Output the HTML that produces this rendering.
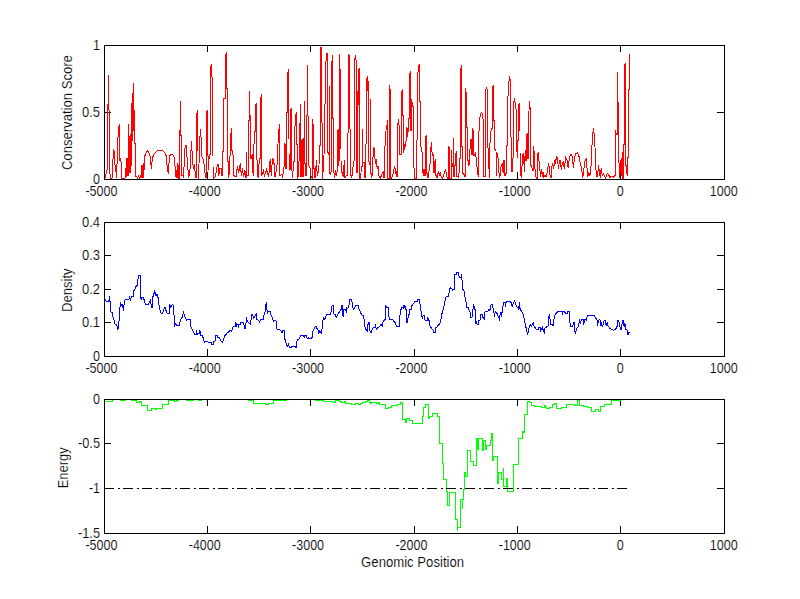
<!DOCTYPE html>
<html><head><meta charset="utf-8"><title>figure</title>
<style>
html,body{margin:0;padding:0;background:#fff;}
body{width:800px;height:599px;overflow:hidden;}
svg{display:block;}
text{font-family:"Liberation Sans",sans-serif;font-size:14px;fill:#000;stroke:#fff;stroke-width:0.15px;paint-order:fill stroke;}
</style></head><body>
<svg width="800" height="599" viewBox="0 0 800 599">
<rect x="0" y="0" width="800" height="599" fill="#ffffff"/>
<g fill="none" stroke="#000" stroke-width="1" shape-rendering="crispEdges">
<path d="M104.5 179.5 v-8 M104.5 45.5 v6 M207.5 179.5 v-8 M207.5 45.5 v6 M310.5 179.5 v-8 M310.5 45.5 v6 M414.5 179.5 v-8 M414.5 45.5 v6 M517.5 179.5 v-8 M517.5 45.5 v6 M620.5 179.5 v-8 M620.5 45.5 v6 M724.5 179.5 v-8 M724.5 45.5 v6 M104.5 45.5 h6 M724.5 45.5 h-8 M104.5 112.5 h6 M724.5 112.5 h-8 M104.5 179.5 h6 M724.5 179.5 h-8"/>
<path d="M104.5 356.5 v-8 M104.5 222.5 v6 M207.5 356.5 v-8 M207.5 222.5 v6 M310.5 356.5 v-8 M310.5 222.5 v6 M414.5 356.5 v-8 M414.5 222.5 v6 M517.5 356.5 v-8 M517.5 222.5 v6 M620.5 356.5 v-8 M620.5 222.5 v6 M724.5 356.5 v-8 M724.5 222.5 v6 M104.5 222.5 h6 M724.5 222.5 h-8 M104.5 255.5 h6 M724.5 255.5 h-8 M104.5 289.5 h6 M724.5 289.5 h-8 M104.5 322.5 h6 M724.5 322.5 h-8 M104.5 356.5 h6 M724.5 356.5 h-8"/>
<path d="M104.5 533.5 v-8 M104.5 399.5 v6 M207.5 533.5 v-8 M207.5 399.5 v6 M310.5 533.5 v-8 M310.5 399.5 v6 M414.5 533.5 v-8 M414.5 399.5 v6 M517.5 533.5 v-8 M517.5 399.5 v6 M620.5 533.5 v-8 M620.5 399.5 v6 M724.5 533.5 v-8 M724.5 399.5 v6 M104.5 399.5 h6 M724.5 399.5 h-8 M104.5 443.5 h6 M724.5 443.5 h-8 M104.5 488.5 h6 M724.5 488.5 h-8 M104.5 533.5 h6 M724.5 533.5 h-8"/>
</g>
<g fill="none" stroke-width="1" shape-rendering="crispEdges" stroke-linejoin="miter">
<polyline stroke="#ff0000" points="104.5,154 104.52,177 105.5,177 106.5,172 107.4,168 107.5,105 108.4,103 108.5,75 108.6,108 109.4,111 109.5,170 110.5,178 112,178 113.5,150 114.5,152 115.3,172 116,167 116.5,178 118.2,132 119.4,124 119.42,160 120,160 120.8,158 121.9,178 125,178 125.6,168 126.5,177 127,158 127.7,175 128.48,175 128.5,124 128.52,170 129,170 129.58,170 129.6,136 129.62,172 130.2,172 130.78,172 130.8,134 130.82,165 131.3,165 131.48,165 131.5,103 131.52,140 132.4,140 132.5,93 132.52,130 133.3,130 133.4,83 133.5,110 134.4,111 134.5,119 134.52,143 135.6,143 135.62,176 136.3,176 137.5,178 138.5,176 139.5,178 140.5,176 141.2,178 141.9,165 142.5,178 143.1,163 143.8,178 144.2,162 145,155.5 146.2,152.5 147.5,151 148.5,152 149.4,153.6 150.6,158 151.25,168.6 152.5,158 153.75,154.25 156.25,151.5 158,150.5 160,150.25 162.5,150.75 165,153 166.25,156 167.5,170.5 168.4,172.4 169.4,158 170.25,154.5 172.5,154.25 173.75,156 174.6,159 175.6,175.5 176.5,178 177.5,163 178,178 178.5,165 178.9,178 179.38,178 179.4,130.5 180.38,130.5 180.4,101 180.42,135 181.25,135 181.27,175.5 182.5,175.5 183.5,177 185,148 186.25,145 187.5,164 188.75,178 190,169 191.5,141 192.5,160.5 193.5,169 194.4,164 195.6,177 196.48,177 196.5,120.5 197.25,110 197.27,150 198,150 198.02,178 198.5,178 200.25,129 201.25,140 202,157 203.5,160 204.5,168 205.5,177 206.23,177 206.25,150 206.48,150 206.5,112 207.5,110 207.52,155.5 208,155.5 208.6,170 209.2,154 210.23,154 210.25,73 211.25,64 212.5,85 212.52,155.5 213,155.5 213.02,178 213.75,178 215,177 216.25,172 217.5,164 218.5,164 218.75,175.5 220,168 221.25,168 221.9,175 222.48,175 222.5,151.75 223.73,151.75 223.75,98.75 225,98 225.23,98 225.25,60 226.25,52 226.27,88 227.5,88 227.52,161 228,161 228.75,178 229.4,170 231.25,128 231.27,150.5 232.25,150.5 233.1,155.5 234,175.5 236,177 237.5,166 238.75,173 240.25,163 241.25,175.5 242.5,168 243.5,177 245,170.5 245.6,177 246.48,177 246.5,151.75 246.52,175.5 247.25,175.5 248.48,175.5 248.5,120 249.38,120 249.4,91 249.42,115.5 250.25,115.5 250.27,158 251.25,158 252.5,154 253.1,175.5 254.4,131 255.23,131 255.25,107 256.25,103 256.27,158 256.9,158 258.1,178 259.4,158 260.23,158 260.25,105 261.25,94 261.27,175.5 261.9,175.5 263.5,171 264.4,176 266.5,170 267.5,173 268.75,176.75 270.25,158.6 271.25,176 272.5,158 273.5,160.5 274.1,164 275,176.75 276.9,168 277.75,149 278.5,133.6 279.5,124 279.52,175.5 280.25,175.5 281.9,174 282.5,178 284,166.75 284.38,166.75 284.4,143 285.25,145 285.27,168 285.7,168 286.23,168 286.25,112 287.23,112 287.25,83.75 288.25,69 288.27,138 289,138 289.02,169 289.75,169 290.23,169 290.25,111 291.25,108 291.27,169 291.9,169 292.5,178 293.75,161.75 294.73,161.75 294.75,130 295.6,118 296.25,112 296.27,144 297.1,144 297.12,178 297.9,178 298.75,170.5 299.3,150 299.5,133 300.2,120 300.4,104 300.42,140 300.6,140 300.62,176 301,176 301.28,176 301.3,145 301.32,176 301.6,176 301.98,176 302,140 302.02,176 302.3,176 302.58,176 302.6,139 302.62,176 303,176 303.28,176 303.3,138 303.32,172 303.6,172 303.98,172 304,139 304.3,120 304.5,101 304.52,140 304.7,140 304.72,163 305.25,163 306,175.5 306.58,175.5 306.6,150 306.7,116 307.4,114 307.5,65 307.6,114 308.4,118 308.5,150 308.75,165.5 310,168 311,176 311.9,178 312.48,178 312.5,119 313.5,129 313.52,168 314.4,168 315,178 316.5,160 317.25,175.5 318.1,173 319,165 319.75,145 320.28,145 320.3,123 320.48,123 320.5,47 321.5,47 321.6,122 322.4,124 322.5,150 322.52,178 322.75,178 323.5,160.5 324.4,150 324.5,105 325.4,103 325.5,63 326.4,60 326.5,53 327.5,53 327.6,152 328.5,154 329.4,150 329.5,86 329.6,173 330.5,174 331.4,170 331.5,63 332.4,60 332.5,55 332.6,118 333.5,118 333.6,170.5 334.75,178 335.6,170 336.5,176 337.2,170 337.3,130.5 337.32,165 337.7,165 338.08,165 338.1,128.6 338.12,160 338.6,160 339.38,160 339.4,128 339.5,54 339.55,69 340.5,69 340.6,120 340.62,148 341,148 341.02,172 341.9,172 343.1,176.75 344.4,160 345,177.4 346.25,175.5 347.38,175.5 347.4,150 347.5,134 348.4,132 348.5,54 349.5,56 349.6,128 350.4,130 350.5,150 350.52,175.5 351,175.5 351.9,177.4 353.1,166 354.3,160 354.48,160 354.5,61 355.5,55 356.4,63 356.42,172 356.6,172 357.4,172 357.5,91 358.3,104 358.48,104 358.5,71 359.5,68 359.6,155.5 359.62,178 360.6,178 361.5,166 362.48,166 362.5,128.6 362.52,163 363.1,163 364,162 364.75,177 365.58,177 365.6,148.6 366.4,140 366.5,81 367.5,76 367.5,91 368.5,81 368.6,160 369.5,165 370.4,160 370.5,99 370.52,150 370.7,150 370.72,173 371,173 371.9,178 373.5,148 374.4,149 375.25,163 376.25,161 377.25,169 378.1,166 379,176 380.25,178 381.25,176 383.1,172 384,177.4 384.73,177.4 384.75,152 385.6,131.75 386.5,130.5 387.5,120 387.52,178 388.1,178 389.38,178 389.4,85 390.5,93 390.6,146.75 390.62,178 391.5,178 392.75,175.5 393.75,170.5 394.75,166 395.6,173 396.5,171.75 396.9,176.75 397.48,176.75 397.5,128 398.5,119 399.4,129 399.42,154 400.25,154 401.23,154 401.25,92 402.4,90 402.42,115 403.1,115 403.12,152 403.75,152 404.75,144 405.6,147 406.9,127 407.75,136.75 408.75,118.6 409.38,118.6 409.4,76 410.5,71 410.52,130 411,130 411.48,130 411.5,98.75 412.5,106 413.5,107 413.6,158 414.4,178 415.6,178 416.23,178 416.25,141.75 417.25,139 417.48,139 417.5,79 418.5,66 419.5,65 419.52,101 420.5,101 420.6,145.5 421.5,148 422.5,155.5 423.1,175.5 424,169 424.75,175.5 425.23,175.5 425.25,138 426.5,135 426.52,173 427.25,173 428.1,178 429.4,168 430.25,163 431.25,141.75 432.25,155.5 433.1,155 434,173 435.25,158.6 436,175.5 436.9,178 438.5,171 439.4,175.5 440.25,172 441.25,177.4 442.5,178 444.4,173 445.6,169 446.5,175.5 447.5,178 448.38,178 448.4,146.75 449.4,148 449.42,178 450.25,178 451.23,178 451.25,150 452.25,166.75 453.48,166.75 453.5,138 453.52,176 454.4,176 455.6,155.5 456.5,151 456.52,176.75 457.5,176.75 458.75,178 459.75,158 460.38,158 460.4,73.75 461.4,65 461.42,120 461.9,120 461.92,146.75 462.75,146.75 462.77,173 463.75,173 464.4,176.75 465.38,176.75 465.4,88 466.4,95 466.42,127.4 467.25,127.4 467.27,160.5 468.1,160.5 469,165.5 470,149 471,139 471.5,154 472.48,154 472.5,128 473.5,132.4 473.52,155.5 474.4,155.5 475.25,153.6 476.25,158 477.5,173 478.5,176.75 478.98,176.75 479,131 480,116.75 481.25,112 482.25,113 483.1,120 483.75,136.75 483.77,176 484.4,176 485.4,176 485.5,90 486.5,88 487.5,90 487.6,139 489.4,177 489.98,177 490,143 491.25,128 492.48,128 492.5,87 493.5,86 493.52,120.5 494.4,120.5 494.42,149 495,149 496,151 496.02,175 496.4,175 496.88,175 496.9,152 498.1,158 499,173 499.75,178 501.25,165.5 502.25,163 503.1,173 504,160 505,175.5 505.6,173 506.48,173 506.5,145 507.48,145 507.5,106 508.5,87 509.5,76 510.5,82.5 510.6,136.75 511.5,138 511.52,171.75 512.5,171.75 513.1,155.5 513.48,155.5 513.5,104 514.5,98 515.5,106 516.5,112 516.6,143 517.25,158 517.75,140 518.48,140 518.5,105 519.5,103 519.52,130.5 520,130.5 520.02,175.5 520.6,175.5 521.5,176.75 522.5,156 523.5,153 524.4,171.75 525.25,150 526,160.5 526.48,160.5 526.5,135 527.5,133.6 527.52,158 528.1,158 528.73,158 528.75,115.5 529.5,101 530.5,113 530.6,165.5 531.5,166 532.5,170.5 533.48,170.5 533.5,146 534.4,155 535.25,174 536.25,178 537.23,178 537.25,154 538.1,153 539,160.5 540,170.5 540.6,176.75 541.5,168.6 542.25,176.75 543.1,171.75 544,177.4 545,175 546,176.75 546.9,174 547.75,168 548.75,163 549.75,174 551,178 551.9,166.75 552.75,163 553.5,169 554.75,160.5 555.4,164 556.5,156 557.5,159 558.5,169 559.4,161 560.4,160.5 561.25,170 562.25,163.6 563.1,161.75 564.4,168.6 565.6,157.4 566.9,159 568.1,168 569.4,157.4 570.6,154.5 571.9,155.25 572.5,160.5 573.5,168 574.4,158 575.6,153.6 577.5,153 578.75,155 579.75,160.5 580.6,165.5 581.5,166.75 582.5,176.75 583.5,175.5 584.4,161.75 586.25,159 586.9,166.75 587.75,176.75 588.75,173 590,175.5 591,166.75 591.5,153 592.5,138 593.4,128 594.4,136 595,147.4 595.6,165.5 596.5,176 597.5,176.75 598.5,165.25 599.4,171.75 600.25,178 601.25,168 602.25,175.5 603.5,173.6 604.4,176 605.6,178 607.25,173 608.75,175 610,177.4 612.25,176 613.75,177.4 614.75,175.5 615.23,175.5 615.25,130.5 616.25,134.25 617.38,134.25 617.4,72 617.42,102 618.4,102 618.42,158 618.75,158 619.75,178 620.5,165 621.25,158 621.8,175 622.23,175 622.25,151.75 622.27,178 622.9,178 623.48,178 623.5,144.25 624.38,144.25 624.4,65 625.4,63.75 625.42,140 625.8,140 625.82,165.5 626.25,165.5 627.25,176 627.75,157.4 628.48,157.4 628.5,89 629.48,89 629.5,54"/>
<polyline stroke="#0000ff" points="104.5,299 105.4,299.7 106.5,301.75 108.8,301.75 109.5,296.4 110.1,302.4 110.8,311.9 112.4,312.6 113.2,318.6 114.2,320 114.9,324 116.9,324.7 117.6,330.1 118.6,327.4 119.6,311.2 120.5,302.4 121.6,305.1 122.3,304.5 123.6,311.2 124.3,301.1 125.4,299.3 129,299.3 129.4,296.6 130.4,301.1 131.1,297 133.1,296.4 133.75,291 134.8,289.6 135.8,286.9 137.1,285.6 138.1,278.8 138.75,275.4 140.2,275.4 140.5,298.4 141.6,299.7 142.1,297 143.5,297.7 144.3,300.4 145.6,304.7 148.3,304.2 149.3,302.4 150.6,299.7 151.3,307.2 152.1,307.2 152.7,297 153.7,295 154.7,290.3 155.6,295.7 157.4,294.3 158.3,299 159.1,305.8 160.1,310.5 161.4,313.9 162.8,312.6 164.1,308.5 165.1,307.2 166.2,311.2 167.5,313.9 169.1,313.9 169.9,304.5 170.9,307.2 172.2,304.5 173.2,305 174,315.25 174.9,325.4 175.9,323.4 177,326 179.4,325.4 180.3,320 181.7,318.6 183.4,312.6 184.8,316.6 186.4,320 187.5,319.3 190.2,319.3 190.5,326 191.8,328.75 194.5,334.2 196.1,334.2 196.5,330.1 197.2,334.2 199.2,333.5 199.9,330.4 201,335.5 202.6,335.5 203.7,340.9 204.6,342 207.7,341.3 208.4,342.25 211.1,342.25 211.75,344.3 213.4,344.3 213.8,341.6 215.1,340.9 215.5,335.2 217.4,335.2 217.8,337.5 219.2,337.5 220.1,339.6 222.3,342.25 223.2,340.9 224.6,335.5 225.9,334.8 227.3,332.5 228.6,332.1 229.6,330.4 231.3,330.4 231.7,332.1 232.3,328.1 233.4,326.3 235,326.7 235.4,322 236.1,326.7 236.7,324 238.1,324.7 238.5,326 239,324.4 240.4,324.4 240.8,322.4 243.5,322.4 244.2,326 245.2,329.4 245.8,326 246.4,317.3 247.1,320 248.2,322 250.2,324 250.9,321.3 251.6,314.2 252.5,314.6 253.9,318.6 255,315.9 256.3,314.2 256.6,319.3 259,320.65 259.4,322.3 260.4,319.7 263,320 263.7,315.9 265.1,311.9 265.5,307.2 266.4,302.2 266.8,307.8 267.4,313.9 268.2,311.2 270.1,311.2 270.9,314.6 272.5,318.6 273.9,322 274.1,320 275.5,320 276.3,322 276.6,329 279.25,329.4 280.9,330.8 281.7,332.1 282.6,332.1 283,330.1 284,330.1 284.4,338.9 285.7,339.6 286.3,345.6 287.6,346.3 288.4,344.3 289.4,347 291.4,347 292.5,346 294.8,346 295.5,347.4 296.5,347 297.1,339.6 299.5,338.9 300.6,335.2 303.6,335.2 304.2,337.1 304.9,335.2 306.5,335.2 307.3,338.9 308.3,337.5 309,338.9 311.9,338.9 312.4,332.8 313.4,330.1 314.7,327.1 316.1,326.3 317.4,329.4 318.4,330.8 318.8,334.2 319.5,330.8 320.8,331.5 321.2,334.2 321.5,329.4 322.4,328.75 322.8,320.65 323.8,317.3 324.9,319.3 325.5,316.6 326.9,314.6 328.9,314.6 330,315 330.9,313.2 331.6,307.2 332.3,305.1 333.2,305.1 333.6,313.9 335,314.6 336.3,317.3 337.7,314.6 339,312.6 340.4,309.9 341.3,309.2 342.1,305.1 342.7,314.6 343.3,317.3 343.75,309.9 345.4,309.2 346.2,311.2 346.7,307.8 347.8,308.5 348.9,306.5 349.4,299.3 351.6,299.3 352.1,302.4 352.9,307.8 353.9,309.2 354.8,307.8 355.6,305.1 358.3,305.1 358.9,308.5 359.7,309.9 360.6,312.6 361.6,314.6 363.3,315.9 364,318.6 364.4,324.7 365.4,328.75 366.7,330.1 367.4,330.8 367.8,324.7 368.7,324 369.1,322 369.7,329.4 370.5,332.5 371.4,332.1 372.1,329.4 373.5,327.4 375.1,327.4 375.5,324 375.9,327.4 376.8,329.4 377.8,327.4 379.5,326.7 380.9,324.7 381.8,324.7 382.2,327.4 382.6,322.7 384,320.65 385.3,319 385.6,305.1 386.3,307.2 388,307.2 388.6,315.25 389.4,319.3 392.6,319.3 393.7,321.3 395.3,322.7 396.4,326.3 399.1,326.3 399.5,318 400.5,311.9 401.5,307.2 403.2,307.2 403.4,305.1 404,308.5 404.8,305.5 405.6,309.2 406.1,309.2 406.5,322 407.5,322 408.3,315.25 409.2,314.6 409.9,309.6 411.25,309.2 411.9,305.8 413.3,303.8 414.6,302 416,301.1 417.3,301.1 417.7,299.3 419.3,299.3 420.1,304.5 421.1,311.2 421.75,315.25 422.4,319.3 423.1,315.25 424.2,315.25 424.7,320 427.15,320.4 427.8,317.3 428.5,320 429.2,320.65 429.85,326 430.9,327.4 431.9,328.75 433.2,330.1 433.9,332.1 435.25,332.1 435.9,327.4 437.3,326.7 438.6,324.7 440,323.4 440.9,320 441.7,314.6 442.7,311.2 443.6,307.8 444.4,305.1 445.4,298.4 446.3,296.6 448.1,296.4 449,293 449.8,288.9 450.8,287.6 451.7,288.9 452.8,290.3 454.15,289.6 454.6,274.75 456.2,274.1 456.85,272.7 458.2,272.7 458.9,276.1 459.8,277.2 460.9,278.1 461.3,274.5 461.7,279.5 462.5,280.8 462.9,289.6 464.3,291 465,297 466,301.75 466.7,307.4 468.3,307.8 469.3,311.2 470.1,311.9 470.6,317.3 472,317.3 472.8,312.6 473.3,304.5 474.4,306.5 475.1,309.9 475.5,324 476.4,320.65 477.1,324 478.2,324 478.7,320.65 480.1,320 480.5,314.6 482.5,314.6 483.2,318.6 484.1,319 484.5,312.6 485.9,311.2 487.9,311 489,309.2 489.9,311.2 490.3,305.8 492,304.5 492.6,306.5 493.6,309.9 494.4,316.6 495.3,311.9 496.7,312.6 497.6,315.25 498.7,317.3 499.4,319 500.1,314.6 500.7,312.6 501.4,316.6 502.1,311.9 502.75,308.5 503.4,302.4 505.2,302.4 505.5,306.5 506.1,302.4 506.8,301.1 508.8,301.1 510.2,302.4 510.85,301.1 511.5,303.8 512.2,306.5 513.3,303.1 514.6,301.1 515.6,303.1 516.25,306.5 517.6,307.2 518.3,309.2 519,306.5 519.4,302.4 520,308.5 521.35,311.2 522.7,312.6 523.8,317.3 524.7,322 525.7,326 526.75,330.8 527.4,334.2 528.4,331.5 529.2,326.7 530.5,324.7 531.5,326 532.4,324.7 533.2,322 533.8,325.4 534.85,327.4 536.2,329 538.2,329.4 538.9,327.4 540,327.4 540.5,332.1 541.3,329.4 542.3,327.4 542.95,329.4 544.3,332.1 545,328.1 546.3,327.1 548.1,326 548.35,318 549.4,315.25 550,319.3 550.8,324 552.7,324 553.2,326.3 553.75,320 554.8,315.5 556.2,313.2 557.5,311.9 559.8,311.5 562.1,311.2 562.5,314.6 563.2,311.2 564.55,311.9 565.9,313.9 567.25,313.9 567.5,311.9 569.3,311.9 569.7,322 570.6,326 572.9,326 573.3,322 574.3,322 574.7,330.8 575.35,332.5 576.7,328.75 578.3,326.3 579.1,322.7 579.7,319.3 580.5,322.7 581.4,320 583.2,319.3 583.7,324.7 584.5,319.3 585.9,319 586.4,320.65 587.2,315.5 588.85,315.25 594.5,315.4 595.6,318 597.1,319.9 597.5,326.25 598.25,321.75 599.4,319.5 600.1,320.25 600.9,326.25 601.6,322.5 602.4,327.4 603.5,322.5 604.25,320.25 605.75,320.25 606.1,326.25 607.25,322.1 608,325.9 609.1,327 610.25,328.9 612.1,329.4 613.6,330.4 615.1,329.6 616.25,328.1 617.15,326.25 617.4,320.25 618.5,320.25 618.9,322.1 619.6,322.5 620,327 620.6,329.25 621.3,329.25 621.9,325.5 622.4,320.25 623.6,320.25 623.9,325.5 624.5,326.25 624.9,324 625.6,324.4 625.9,329.25 626.75,329.6 627.5,330.75 627.9,334.5 628.6,334.5 628.9,332.4 629.75,332.4"/>
<polyline stroke="#00ff00" points="104.5,401.4 112.5,401.4 112.5,399 120,399 120,400.5 125.6,400.5 125.6,399 131,399 131,400.5 136.25,400.5 136.25,402.4 139.75,402.4 139.75,401.5 141.25,401.5 141.25,405.25 147.5,405.25 147.5,410.25 151.25,410.25 151.25,408.6 155.6,408.6 155.6,409.5 156.9,409.5 156.9,408.25 162.5,408.25 162.5,404.5 168.1,404.5 168.1,400.5 174.4,400.5 174.4,401.5 176.9,401.5 176.9,400.5 178,400.5 178,399 186.25,399 186.25,400.5 193.1,400.5 193.1,399 198.1,399 198.1,400.5 201.9,400.5 201.9,399 248.1,399 248.1,400.5 253.1,400.5 253.1,403.4 265.6,403.4 265.6,404.5 268.75,404.5 268.75,403.4 273.5,403.4 273.5,400.5 286.9,400.5 286.9,399 315,399 315,400.5 323.75,400.5 323.75,401.5 333.1,401.5 333.1,402.5 335.6,402.5 335.6,400.25 339.4,400.25 339.4,401.5 341.25,401.5 341.25,402.5 344.4,402.5 344.4,401.5 345,401.5 345,403.4 351.9,403.4 351.9,404.5 355,404.5 355,403.4 358.75,403.4 358.75,404.5 360,404.5 360,403.6 362.5,403.6 362.5,402.4 365,402.4 365,401.5 367.5,401.5 367.5,400.5 369.4,400.5 369.4,402.4 370.6,402.4 370.6,403.4 371.9,403.4 371.9,402.4 376.25,402.4 376.25,403.4 378.1,403.4 378.1,402.8 379,402.8 379,404.5 385.6,404.5 385.6,408 387.5,408 387.5,408.6 388.75,408.6 388.75,407.75 391.25,407.75 391.25,406.5 391.9,406.5 391.9,405.5 397.5,405.5 397.5,404.5 400,404.5 400,402.4 402.5,402.4 402.5,419.25 404.4,419.25 404.4,419.9 405.25,419.9 405.25,422.4 406.5,422.4 406.5,418.6 409.75,418.6 409.75,420.25 412.75,420.25 412.75,423.4 422.75,423.4 422.75,416.1 423.5,416.1 423.5,407.75 425.25,407.75 425.25,404.5 428.5,404.5 428.5,418 429.4,418 429.4,416.5 432.5,416.5 432.5,413.25 437.5,413.25 437.5,416.1 439.4,416.1 439.4,443.4 442.5,443.4 442.5,463.4 443.5,463.4 443.5,479.4 446.25,479.4 446.25,491.25 447.5,491.25 447.5,505.25 449.75,505.25 449.75,492.25 455.6,492.25 455.6,519.4 457.5,519.4 457.5,530.6 457.8,530.6 457.8,527.5 460.6,527.5 460.6,499.4 462.3,499.4 462.3,508.75 462.7,508.75 462.7,499.4 463.5,499.4 463.5,489 464.4,489 464.4,472.25 465.6,472.25 465.6,476.25 467.25,476.25 467.25,450.25 470.4,450.25 470.4,461.25 473.5,461.25 473.5,465.4 476.25,465.4 476.25,438.25 476.9,438.25 476.9,449.4 477.4,449.4 477.4,438.25 477.9,438.25 477.9,449.4 478.5,449.4 478.5,438.25 482.25,438.25 482.25,440.25 482.6,440.25 482.6,450.5 483.75,450.5 483.75,440.25 485.4,440.25 485.4,449.5 486.5,449.5 486.5,445.25 490.6,445.25 490.6,440.25 491.25,440.25 491.25,433.25 492.5,433.25 492.5,460.5 493.5,460.5 493.5,456.1 497.5,456.1 497.5,483.1 498.5,483.1 498.5,472.25 501.5,472.25 501.5,479.4 503.1,479.4 503.1,468.1 503.4,468.1 503.4,486.25 506.25,486.25 506.25,478.1 507.25,478.1 507.25,491.25 513.1,491.25 513.1,464.4 518.4,464.4 518.4,438.25 522.25,438.25 522.25,431.1 523.5,431.1 523.5,432.75 524.4,432.75 524.4,414.5 527.75,414.5 527.75,401.5 529.4,401.5 529.4,402.4 531,402.4 531,405.25 534.4,405.25 534.4,406.4 541.25,406.4 541.25,407.4 544,407.4 544,405.5 545.25,405.5 545.25,407.4 546.25,407.4 546.25,408.4 549.4,408.4 549.4,407.4 552.25,407.4 552.25,404.5 554.4,404.5 554.4,403.6 556.25,403.6 556.25,408.4 561.9,408.4 561.9,407.4 566.5,407.4 566.5,404.5 574.75,404.5 574.75,405.5 577.5,405.5 577.5,400.25 579.4,400.25 579.4,405.25 583.75,405.25 583.75,406.4 587.5,406.4 587.5,407.4 591.25,407.4 591.25,411.5 595.25,411.5 595.25,409.25 598.5,409.25 598.5,411.5 600.4,411.5 600.4,406.4 604.4,406.4 604.4,404.5 611.5,404.5 611.5,400.5 620,400.5 620,399 629.5,399 629.5,399"/>
<line x1="104" y1="488.5" x2="627" y2="488.5" stroke="#000" stroke-dasharray="10 3.5 2 3.5"/>
</g>
<g fill="none" stroke="#000" stroke-width="1" shape-rendering="crispEdges">
<rect x="104.5" y="45.5" width="620" height="134"/>
<rect x="104.5" y="222.5" width="620" height="134"/>
<rect x="104.5" y="399.5" width="620" height="134"/>
</g>
<g>
<text x="85.4" y="195.7" text-anchor="start" textLength="32" lengthAdjust="spacingAndGlyphs">-5000</text>
<text x="188.733" y="195.7" text-anchor="start" textLength="32" lengthAdjust="spacingAndGlyphs">-4000</text>
<text x="292.067" y="195.7" text-anchor="start" textLength="32" lengthAdjust="spacingAndGlyphs">-3000</text>
<text x="395.4" y="195.7" text-anchor="start" textLength="32" lengthAdjust="spacingAndGlyphs">-2000</text>
<text x="498.733" y="195.7" text-anchor="start" textLength="32" lengthAdjust="spacingAndGlyphs">-1000</text>
<text x="620.367" y="195.7" text-anchor="middle" textLength="7" lengthAdjust="spacingAndGlyphs">0</text>
<text x="723.7" y="195.7" text-anchor="middle" textLength="28" lengthAdjust="spacingAndGlyphs">1000</text>
<text x="100" y="49.6" text-anchor="end" textLength="7" lengthAdjust="spacingAndGlyphs">1</text>
<text x="100" y="116.6" text-anchor="end" textLength="18" lengthAdjust="spacingAndGlyphs">0.5</text>
<text x="100" y="183.6" text-anchor="end" textLength="7" lengthAdjust="spacingAndGlyphs">0</text>
<text x="85.4" y="372.7" text-anchor="start" textLength="32" lengthAdjust="spacingAndGlyphs">-5000</text>
<text x="188.733" y="372.7" text-anchor="start" textLength="32" lengthAdjust="spacingAndGlyphs">-4000</text>
<text x="292.067" y="372.7" text-anchor="start" textLength="32" lengthAdjust="spacingAndGlyphs">-3000</text>
<text x="395.4" y="372.7" text-anchor="start" textLength="32" lengthAdjust="spacingAndGlyphs">-2000</text>
<text x="498.733" y="372.7" text-anchor="start" textLength="32" lengthAdjust="spacingAndGlyphs">-1000</text>
<text x="620.367" y="372.7" text-anchor="middle" textLength="7" lengthAdjust="spacingAndGlyphs">0</text>
<text x="723.7" y="372.7" text-anchor="middle" textLength="28" lengthAdjust="spacingAndGlyphs">1000</text>
<text x="100" y="226.6" text-anchor="end" textLength="18" lengthAdjust="spacingAndGlyphs">0.4</text>
<text x="100" y="259.6" text-anchor="end" textLength="18" lengthAdjust="spacingAndGlyphs">0.3</text>
<text x="100" y="293.6" text-anchor="end" textLength="18" lengthAdjust="spacingAndGlyphs">0.2</text>
<text x="100" y="326.6" text-anchor="end" textLength="18" lengthAdjust="spacingAndGlyphs">0.1</text>
<text x="100" y="360.6" text-anchor="end" textLength="7" lengthAdjust="spacingAndGlyphs">0</text>
<text x="85.4" y="549.7" text-anchor="start" textLength="32" lengthAdjust="spacingAndGlyphs">-5000</text>
<text x="188.733" y="549.7" text-anchor="start" textLength="32" lengthAdjust="spacingAndGlyphs">-4000</text>
<text x="292.067" y="549.7" text-anchor="start" textLength="32" lengthAdjust="spacingAndGlyphs">-3000</text>
<text x="395.4" y="549.7" text-anchor="start" textLength="32" lengthAdjust="spacingAndGlyphs">-2000</text>
<text x="498.733" y="549.7" text-anchor="start" textLength="32" lengthAdjust="spacingAndGlyphs">-1000</text>
<text x="620.367" y="549.7" text-anchor="middle" textLength="7" lengthAdjust="spacingAndGlyphs">0</text>
<text x="723.7" y="549.7" text-anchor="middle" textLength="28" lengthAdjust="spacingAndGlyphs">1000</text>
<text x="100" y="403.6" text-anchor="end" textLength="7" lengthAdjust="spacingAndGlyphs">0</text>
<text x="100" y="447.6" text-anchor="end" textLength="22" lengthAdjust="spacingAndGlyphs">-0.5</text>
<text x="100" y="492.6" text-anchor="end" textLength="11" lengthAdjust="spacingAndGlyphs">-1</text>
<text x="100" y="537.6" text-anchor="end" textLength="22" lengthAdjust="spacingAndGlyphs">-1.5</text>
<text transform="translate(72,112.6) rotate(-90)" text-anchor="middle" textLength="115" lengthAdjust="spacingAndGlyphs">Conservation Score</text>
<text transform="translate(72,290.2) rotate(-90)" text-anchor="middle" textLength="43.5" lengthAdjust="spacingAndGlyphs">Density</text>
<text transform="translate(68,467.8) rotate(-90)" text-anchor="middle" textLength="41" lengthAdjust="spacingAndGlyphs">Energy</text>
<text x="412.6" y="566.6" text-anchor="middle" textLength="103" lengthAdjust="spacingAndGlyphs">Genomic Position</text>
</g>
</svg>
</body></html>
